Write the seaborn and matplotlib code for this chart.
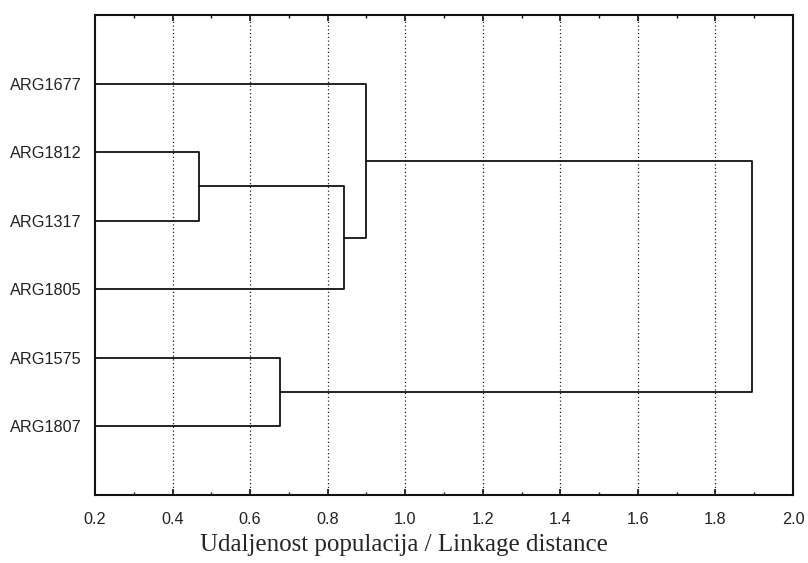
import matplotlib
matplotlib.use('Agg')
import matplotlib.pyplot as plt
import numpy as np
import pandas as pd
import seaborn as sns
from matplotlib.ticker import MultipleLocator

# leaf order from top to bottom
LEAVES = ['ARG1677', 'ARG1812', 'ARG1317', 'ARG1805', 'ARG1575', 'ARG1807']
# merges: (left member, right member, linkage distance)
MERGES = [
    ('ARG1812', 'ARG1317', 0.467),
    ('ARG1575', 'ARG1807', 0.676),
    ('c0', 'ARG1805', 0.843),
    ('ARG1677', 'c2', 0.898),
    ('c3', 'c1', 1.895),
]
X_MIN, X_MAX = 0.2, 2.0


def build_segments(leaves, merges, x0):
    # position and height of every node (leaves start at axis origin)
    pos = {name: (i + 1, x0) for i, name in enumerate(leaves)}
    rows = []
    for k, (a, b, d) in enumerate(merges):
        ya, xa = pos[a]
        yb, xb = pos[b]
        for px, py in [(xa, ya), (d, ya), (d, yb), (xb, yb)]:
            rows.append({'seg': k, 'x': px, 'y': py})
        pos['c%d' % k] = ((ya + yb) / 2, d)
    return pd.DataFrame(rows)


if __name__ == '__main__':
    sns.set_style('white')
    plt.rcParams['font.family'] = ['Liberation Sans', 'DejaVu Sans']

    df = build_segments(LEAVES, MERGES, X_MIN)

    fig = plt.figure(figsize=(8.08, 5.63), dpi=100)
    ax = fig.add_axes([0.1176, 0.1208, 0.9814 - 0.1176, 0.9734 - 0.1208])

    sns.lineplot(data=df, x='x', y='y', units='seg', estimator=None, sort=False,
                 color='#111111', linewidth=1.3, ax=ax, legend=False)

    ax.set_xlim(X_MIN, X_MAX)
    ax.set_ylim(len(LEAVES) + 1, 0)
    ax.set_yticks(np.arange(1, len(LEAVES) + 1))
    ax.set_yticklabels(LEAVES, fontsize=11.7, color='#222222')
    ax.xaxis.set_major_locator(MultipleLocator(0.2))
    ax.xaxis.set_minor_locator(MultipleLocator(0.1))
    ax.xaxis.set_major_formatter(matplotlib.ticker.FormatStrFormatter('%.1f'))
    ax.tick_params(axis='x', which='both', direction='in', top=True, bottom=True,
                   labelsize=11.7, labelcolor='#222222', color='#111111', pad=12)
    ax.tick_params(axis='x', which='major', length=4, width=1.2)
    ax.tick_params(axis='x', which='minor', length=2.5, width=1.0)
    ax.tick_params(axis='y', length=0, pad=9.5)

    ax.grid(False)
    for v in np.arange(0.4, 1.81, 0.2):
        ax.axvline(v, color='#222222', linestyle=(0, (1, 2)), linewidth=0.9, zorder=0)

    for sp in ax.spines.values():
        sp.set_color('#111111')
        sp.set_linewidth(1.5)

    ax.set_xlabel('')
    ax.set_ylabel('')
    # caption is centred on the whole figure, not on the axes
    fig.text(0.5, 1 - 545 / 563, 'Udaljenost populacija / Linkage distance',
             family=['Liberation Serif', 'DejaVu Serif'], fontsize=18,
             ha='center', va='center')

    fig.savefig('out.png', dpi=100)
